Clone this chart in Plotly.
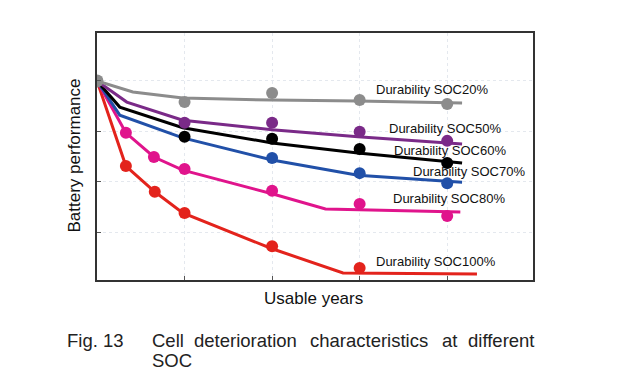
import plotly.graph_objects as go

# Fitted curves (years, performance)
soc20_line_x = [0, 0.41, 0.98, 2.0, 2.98, 4.17]
soc20_line_y = [4.0, 3.78, 3.66, 3.62, 3.60, 3.56]
soc50_line_x = [0, 0.34, 0.98, 2.0, 2.98, 4.17]
soc50_line_y = [4.0, 3.58, 3.22, 3.03, 2.89, 2.75]
soc60_line_x = [0, 0.26, 0.98, 2.0, 2.98, 4.17]
soc60_line_y = [4.0, 3.48, 3.07, 2.77, 2.57, 2.37]
soc70_line_x = [0, 0.26, 0.98, 2.0, 2.98, 4.17]
soc70_line_y = [4.0, 3.32, 2.87, 2.43, 2.13, 1.99]
soc80_line_x = [0, 0.33, 0.65, 0.98, 2.0, 2.61, 4.15]
soc80_line_y = [4.0, 2.97, 2.49, 2.23, 1.76, 1.46, 1.40]
soc100_line_x = [0, 0.33, 0.66, 0.98, 2.0, 2.81, 4.34]
soc100_line_y = [4.0, 2.31, 1.80, 1.38, 0.67, 0.19, 0.17]

# Measured points
soc20_pt_x = [1, 2, 3, 4]
soc20_pt_y = [3.58, 3.76, 3.62, 3.54]
soc50_pt_x = [1, 2, 3, 4]
soc50_pt_y = [3.17, 3.17, 2.99, 2.81]
soc60_pt_x = [1, 2, 3, 4]
soc60_pt_y = [2.89, 2.85, 2.65, 2.37]
soc70_pt_x = [2, 3, 4]
soc70_pt_y = [2.47, 2.17, 1.97]
soc80_pt_x = [0.33, 0.65, 1, 2, 3, 4]
soc80_pt_y = [2.97, 2.49, 2.25, 1.82, 1.56, 1.32]
soc100_pt_x = [0.33, 0.66, 1, 2, 3]
soc100_pt_y = [2.31, 1.80, 1.38, 0.72, 0.29]
start_x = [0]
start_y = [4.0]

series_names = ["Durability SOC100%", "Durability SOC80%", "Durability SOC70%",
                "Durability SOC60%", "Durability SOC50%", "Durability SOC20%"]

series = [
    (series_names[0], soc100_line_x, soc100_line_y, soc100_pt_x, soc100_pt_y, "#e3231c"),
    (series_names[1], soc80_line_x, soc80_line_y, soc80_pt_x, soc80_pt_y, "#e0148c"),
    (series_names[2], soc70_line_x, soc70_line_y, soc70_pt_x, soc70_pt_y, "#2150a8"),
    (series_names[3], soc60_line_x, soc60_line_y, soc60_pt_x, soc60_pt_y, "#000000"),
    (series_names[4], soc50_line_x, soc50_line_y, soc50_pt_x, soc50_pt_y, "#7a2a88"),
    (series_names[5], soc20_line_x, soc20_line_y, soc20_pt_x, soc20_pt_y, "#8c8c8c"),
]

fig = go.Figure()
for name, lx, ly, px, py, col in series:
    fig.add_trace(go.Scatter(x=lx, y=ly, mode="lines", line=dict(color=col, width=3),
                             showlegend=False, hoverinfo="skip"))
    fig.add_trace(go.Scatter(x=px, y=py, mode="markers", marker=dict(color=col, size=12),
                             showlegend=False, name=name))
fig.add_trace(go.Scatter(x=start_x, y=start_y, mode="markers",
                         marker=dict(color="#8c8c8c", size=13), showlegend=False))

FONT = "Liberation Sans, Arial, Helvetica"

label_pos = {
    "Durability SOC20%": (3.83, 3.82),
    "Durability SOC50%": (3.97, 3.05),
    "Durability SOC60%": (4.03, 2.61),
    "Durability SOC70%": (4.25, 2.21),
    "Durability SOC80%": (4.02, 1.66),
    "Durability SOC100%": (3.87, 0.41),
}
for t, (x, y) in label_pos.items():
    fig.add_annotation(x=x, y=y, text=t, showarrow=False, xref="x", yref="y",
                       font=dict(family=FONT, size=13, color="#111"))

# plot area in page pixels: left 97, top 33, width 436, height 247
def px_x(p):
    return (p - 97) / 436

def px_y(p):
    return (280 - p) / 247

# axis titles
fig.add_annotation(xref="paper", yref="paper", x=px_x(313), y=px_y(298),
                   text="Usable years", showarrow=False, xanchor="center", yanchor="middle",
                   font=dict(family=FONT, size=17, color="#111"))
fig.add_annotation(xref="paper", yref="paper", x=px_x(74), y=px_y(155.5),
                   text="Battery performance", showarrow=False, textangle=-90,
                   xanchor="center", yanchor="middle",
                   font=dict(family=FONT, size=17, color="#111"))

# caption
cap_font = dict(family=FONT, size=18.5, color="#222")
caption_words = [("Fig. 13", 65), ("Cell", 150), ("deterioration", 192),
                 ("characteristics", 308), ("at", 440), ("different", 466)]
for w, x in caption_words:
    fig.add_annotation(xref="paper", yref="paper", x=px_x(x), y=px_y(340), text=w,
                       showarrow=False, xanchor="left", yanchor="middle", font=cap_font)
fig.add_annotation(xref="paper", yref="paper", x=px_x(150), y=px_y(360), text="SOC",
                   showarrow=False, xanchor="left", yanchor="middle", font=cap_font)

fig.update_layout(
    width=624, height=365,
    margin=dict(l=89, r=99, t=25, b=93),
    paper_bgcolor="white", plot_bgcolor="white",
    font=dict(family=FONT, color="#111"),
    xaxis=dict(range=[0, 4.98], tickvals=[1, 2, 3, 4], showticklabels=False,
               ticks="inside", ticklen=4, tickcolor="#555",
               showgrid=True, gridcolor="#e4e8ee", griddash="dot",
               showline=True, linecolor="#333", linewidth=2, mirror=True, zeroline=False),
    yaxis=dict(range=[0.05, 4.95], tickvals=[1, 2, 3, 4], showticklabels=False,
               ticks="inside", ticklen=4, tickcolor="#555",
               showgrid=True, gridcolor="#e4e8ee", griddash="dot",
               showline=True, linecolor="#333", linewidth=2, mirror=True, zeroline=False),
)

fig.write_html("out.html")
